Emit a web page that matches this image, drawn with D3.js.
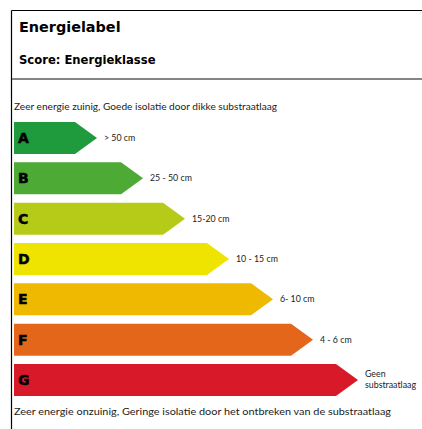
<!DOCTYPE html>
<html><head><meta charset="utf-8">
<script src="https://cdn.jsdelivr.net/npm/d3@7"></script>
<style>html,body{margin:0;padding:0;background:#fff}</style>
</head><body>
<svg id="c" width="422" height="429"></svg>
<script>
const classes = ["A","B","C","D","E","F","G"];
const lengths = [83, 129, 171, 215, 259, 299, 344];
const ranges = ["> 50 cm","25 - 50 cm","15-20 cm","10 - 15 cm","6- 10 cm","4 - 6 cm","Geen\nsubstraatlaag"];
const colors = ["#1f9a3d","#4caa35","#b6cb18","#efe400","#eeb900","#e3661b","#d8192a"];
const title = "Energielabel";
const subtitle = "Score: Energieklasse";
const topNote = "Zeer energie zuinig, Goede isolatie door dikke substraatlaag";
const bottomNote = "Zeer energie onzuinig, Geringe isolatie door het ontbreken van de substraatlaag";

const svg = d3.select("#c");
const x = d3.scaleLinear().domain([0, 344]).range([14, 358]);
const y = d3.scaleBand().domain(classes).range([122, 396]).paddingInner(0.206);
const bw = y.bandwidth();
const shoulder = 22;

// frame
svg.append("line").attr("x1",11.5).attr("x2",11.5).attr("y1",10.5).attr("y2",429).attr("stroke","#000").attr("stroke-width",1.2);
svg.append("line").attr("x1",11.5).attr("x2",422).attr("y1",10.5).attr("y2",10.5).attr("stroke","#000").attr("stroke-width",1.2);
svg.append("line").attr("x1",12).attr("x2",422).attr("y1",79).attr("y2",79).attr("stroke","#858585").attr("stroke-width",2);

svg.append("text").attr("x",19).attr("y",32).text(title)
  .attr("font-family","'DejaVu Sans', Arial, sans-serif").attr("font-weight","bold").attr("font-size",14.4).attr("fill","#000");
svg.append("text").attr("x",19).attr("y",64).text(subtitle)
  .attr("font-family","'DejaVu Sans', Arial, sans-serif").attr("font-weight","bold").attr("font-size",11.6).attr("fill","#000");

const noteFont = "Lato, 'Open Sans', sans-serif";
svg.append("text").attr("x",14).attr("y",110).text(topNote)
  .attr("font-family",noteFont).attr("font-size",9.6).attr("fill","#222")
  .attr("textLength",263).attr("lengthAdjust","spacingAndGlyphs");
svg.append("text").attr("x",14).attr("y",415).text(bottomNote)
  .attr("font-family",noteFont).attr("font-size",9.6).attr("fill","#222")
  .attr("textLength",377).attr("lengthAdjust","spacingAndGlyphs");

const g = svg.selectAll("g.bar").data(classes).join("g").attr("class","bar");
g.append("path")
  .attr("d",(d,i)=>{
    const x0 = x(0), x1 = x(lengths[i]), y0 = y(d), y1 = y0 + bw;
    return `M${x0},${y0}H${x1-shoulder}L${x1},${y0+bw/2}L${x1-shoulder},${y1}H${x0}Z`;
  })
  .attr("fill",(d,i)=>colors[i]);
g.append("text").attr("x",18).attr("y",d=>y(d)+bw/2+5)
  .text(d=>d).attr("font-family","'DejaVu Sans', Arial, sans-serif").attr("font-weight","bold")
  .attr("font-size",14).attr("fill","#000").attr("stroke","#000").attr("stroke-width",0.5);
g.each(function(d,i){
  const lines = ranges[i].split("\n");
  const t = d3.select(this).append("text")
    .attr("font-family",noteFont).attr("font-size",8.8).attr("fill","#222");
  const cy = y(d)+bw/2;
  const start = cy + 3 - (lines.length-1)*5.5;
  lines.forEach((l,k)=>{
    t.append("tspan").attr("x",x(lengths[i])+7).attr("y",start + k*11).text(l);
  });
});
</script>
</body></html>
